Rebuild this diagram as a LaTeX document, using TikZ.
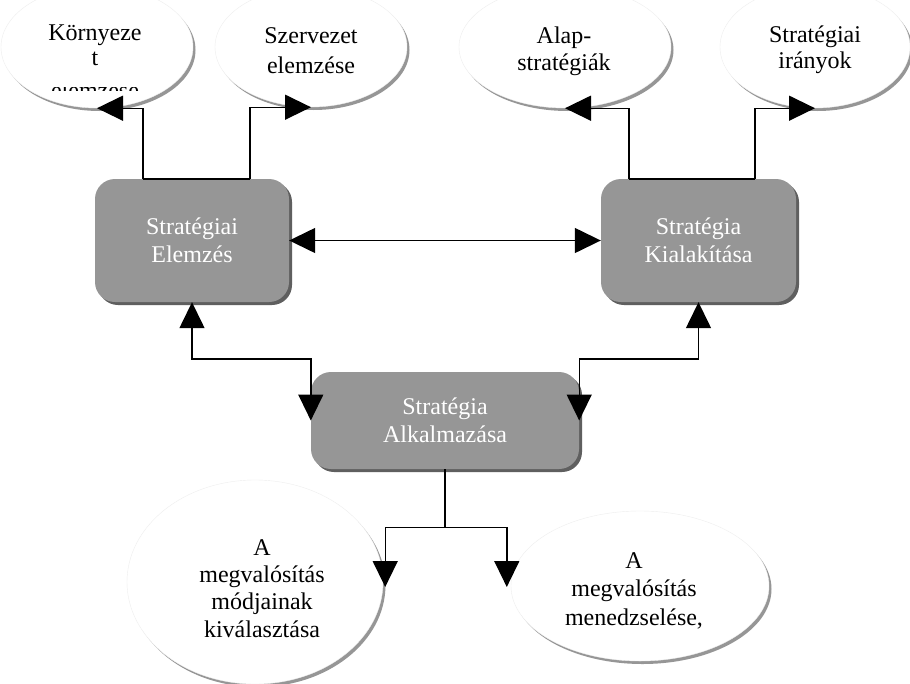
\documentclass[tikz,border=0pt]{standalone}
\usepackage{fontspec}
\setmainfont{Liberation Serif}
\usetikzlibrary{arrows.meta,shapes.geometric,shadows,calc}
\definecolor{boxgray}{RGB}{150,150,150}
\definecolor{boxshadow}{RGB}{95,95,95}
\definecolor{bubshadow}{RGB}{150,150,150}
\definecolor{bubline}{RGB}{238,238,238}
\begin{document}
\begin{tikzpicture}[x=1pt,y=-1pt,
  bubble/.style={ellipse, inner sep=0pt, fill=white, draw=bubline, line width=0.4pt,
    general shadow={shadow xshift=2.5pt, shadow yshift=-3pt, fill=bubshadow}},
  btext/.style={anchor=base, align=center, inner sep=0pt, font=\fontsize{24}{#1}\selectfont},
  stratbox/.style={rounded corners=20pt, fill=boxgray, inner sep=0pt, align=center,
    text=white, font=\fontsize{24}{28}\selectfont,
    general shadow={shadow xshift=3pt, shadow yshift=-3pt, fill=boxshadow}},
  conn/.style={line width=1.4pt},
  arr/.style={line width=1.4pt, -{Triangle[length=26pt,width=25pt]}},
  darr/.style={line width=1.4pt, {Triangle[length=26pt,width=25pt]}-{Triangle[length=26pt,width=25pt]}}]
\useasboundingbox (0,0) rectangle (910,683);
\fill[white] (0,0) rectangle (910,683);

% bubbles
\node[bubble, minimum width=192pt, minimum height=122pt] (e1) at (97,47) {};
\node[bubble, minimum width=192pt, minimum height=120pt] (e2) at (311,47) {};
\node[bubble, minimum width=212pt, minimum height=122pt] (e3) at (565,47) {};
\node[bubble, minimum width=190pt, minimum height=122pt] (e4) at (815,47) {};
\node[bubble, minimum width=256pt, minimum height=204pt] (e5) at (255,582) {};
\node[bubble, minimum width=258pt, minimum height=150pt] (e6) at (640,586) {};

% bubble texts (anchor at baseline of last line)
\node[btext=25] (t1) at (95,65) {Környeze\\t};
\begin{scope}
  \clip (0,87) rectangle (200,90.5);
  \node[btext=25] (t1c) at (95,98.5) {elemzése};
\end{scope}
\node[btext=30] (t2) at (311,73) {Szervezet\\elemzése};
\node[btext=27] (t3) at (564,70) {Alap-\\stratégiák};
\node[btext=26] (t4) at (815,68) {Stratégiai\\irányok};
\node[btext=27.3] (t5) at (262,637) {A\\megvalósítás\\módjainak\\kiválasztása};
\node[btext=28.5] (t6) at (634,625) {A\\megvalósítás\\menedzselése,};

% boxes
\node[stratbox, minimum width=194pt, minimum height=123pt] (b1) at (192,240.5) {Stratégiai\\Elemzés};
\node[stratbox, minimum width=195pt, minimum height=123pt] (b2) at (698.5,240.5) {Stratégia\\Kialakítása};
\node[stratbox, minimum width=268pt, minimum height=97pt] (b3) at (445,420.5) {Stratégia\\Alkalmazása};

% connectors to top bubbles
\coordinate (c1a) at ($(b1.north)+(-49,0)$);
\coordinate (c1b) at ($(b1.north)+(58,0)$);
\draw[conn] (c1a) -- (c1b);
\draw[arr] (c1a) |- (e1.south);
\draw[arr] (c1b) |- (e2.south);

\coordinate (c2a) at ($(b2.north)+(-69.5,0)$);
\coordinate (c2b) at ($(b2.north)+(56.5,0)$);
\draw[conn] (c2a) -- (c2b);
\draw[arr] (c2a) |- (e3.south);
\draw[arr] (c2b) |- (e4.south);

% box to box
\draw[darr] (b1.east) -- (b2.west);
\coordinate (j1) at ($(b3.west)+(0,-61.5)$);
\coordinate (j2) at ($(b3.east)+(0,-61.5)$);
\draw[darr] (b1.south) |- (j1) -- (b3.west);
\draw[darr] (b2.south) |- (j2) -- (b3.east);

% to bottom bubbles
\coordinate (j3) at ($(b3.south)+(0,58)$);
\coordinate (p5) at ($(e5.east)+(2,5)$);
\coordinate (p6) at ($(e6.west)+(-4,1)$);
\draw[conn] (b3.south) -- (j3);
\draw[arr] (j3) -| (p5);
\draw[arr] (j3) -| (p6);
\end{tikzpicture}
\end{document}
